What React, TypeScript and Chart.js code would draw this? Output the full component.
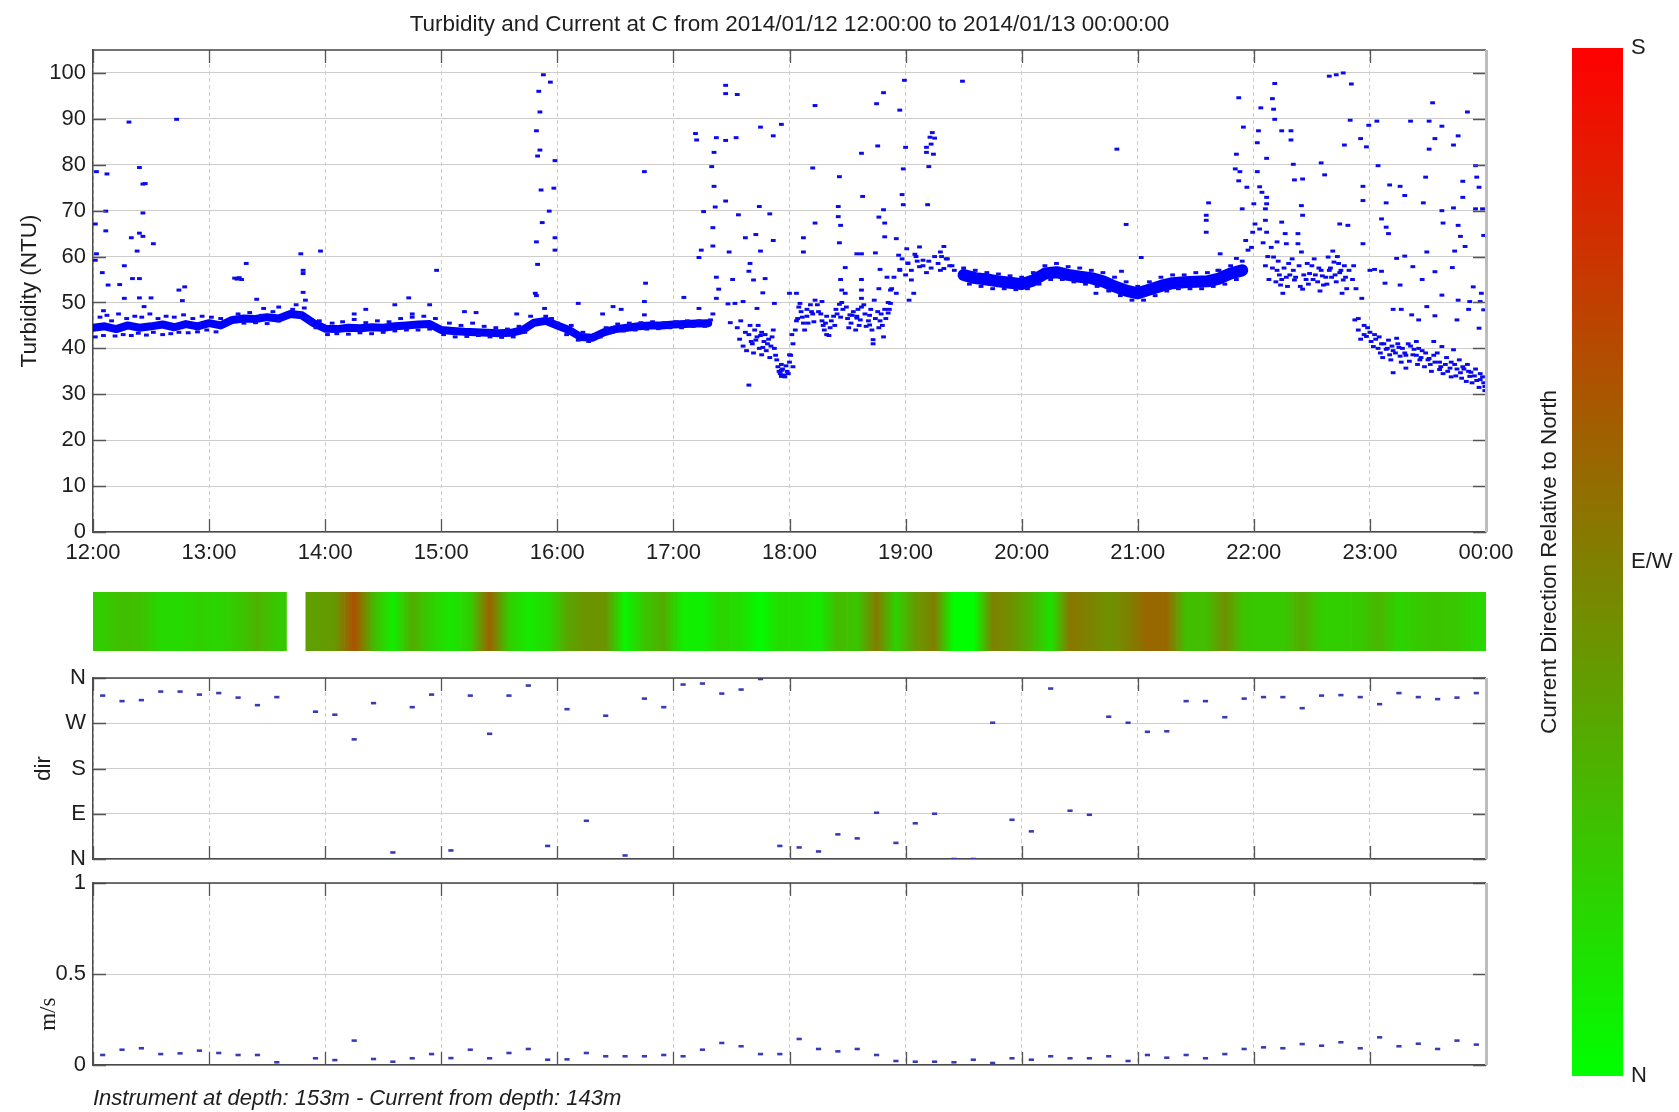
import React, { useEffect, useRef } from "react";
import { Chart, registerables } from "chart.js";
Chart.register(...registerables);

const FONT = "'Liberation Sans', Arial, Helvetica, sans-serif";
const TXT = "#1e1e1e";
const GRID = "#cdcdcd";
const AXIS = "#4a4a4a";

const chartTitle = "Turbidity and Current at C from 2014/01/12 12:00:00 to 2014/01/13 00:00:00";
const footerText = "Instrument at depth: 153m - Current from depth: 143m";

const hourTicks = [0, 1, 2, 3, 4, 5, 6, 7, 8, 9, 10, 11, 12];
const hourLabels = ["12:00", "13:00", "14:00", "15:00", "16:00", "17:00", "18:00", "19:00", "20:00", "21:00", "22:00", "23:00", "00:00"];
const turbTicks = [0, 10, 20, 30, 40, 50, 60, 70, 80, 90, 100];
const dirTicks = [0, 90, 180, 270, 360];
const dirTickLabels = ["N", "E", "S", "W", "N"];
const speedTicks = [0, 0.5, 1];
const speedTickLabels = ["0", "0.5", "1"];
const colorbarTicks = [0, 90, 180];
const colorbarLabels = ["N", "E/W", "S"];

// current observations, minutes after 12:00
const obsMinutes = [5, 15, 25, 35, 45, 55, 65, 75, 85, 95, 115, 125, 135, 145, 155, 165, 175, 185, 195, 205, 215, 225, 235, 245, 255, 265, 275, 285, 295, 305, 315, 325, 335, 345, 355, 365, 375, 385, 395, 405, 415, 425, 435, 445, 455, 465, 475, 485, 495, 505, 515, 525, 535, 545, 555, 565, 575, 585, 595, 605, 615, 625, 635, 645, 655, 665, 675, 685, 695, 705, 715];
const dirDegrees = [325, 314, 316, 333, 333, 327, 330, 321, 306, 322, 293, 287, 238, 310, 13, 302, 327, 17, 325, 249, 325, 345, 26, 298, 76, 285, 7, 319, 302, 347, 349, 329, 337, 358, 26, 23, 15, 49, 41, 92, 32, 71, 90, 0, 0, 271, 78, 55, 339, 96, 88, 283, 271, 253, 254, 314, 314, 282, 319, 322, 322, 300, 325, 326, 322, 308, 330, 322, 318, 321, 330];
const speedMs = [0.055, 0.084, 0.092, 0.06, 0.064, 0.079, 0.066, 0.055, 0.055, 0.015, 0.037, 0.027, 0.134, 0.033, 0.018, 0.037, 0.06, 0.038, 0.084, 0.037, 0.066, 0.088, 0.029, 0.031, 0.066, 0.048, 0.048, 0.048, 0.055, 0.048, 0.084, 0.121, 0.103, 0.06, 0.06, 0.143, 0.088, 0.075, 0.088, 0.055, 0.022, 0.018, 0.018, 0.015, 0.029, 0.011, 0.037, 0.029, 0.048, 0.037, 0.037, 0.048, 0.022, 0.055, 0.04, 0.055, 0.037, 0.06, 0.088, 0.097, 0.092, 0.115, 0.106, 0.125, 0.092, 0.152, 0.103, 0.117, 0.088, 0.134, 0.112];

// dense turbidity baseline (hours after 12:00, NTU)
const bandTimesA = [0, 0.1, 0.2, 0.3, 0.4, 0.5, 0.6, 0.7, 0.8, 0.9, 1.0, 1.1, 1.2, 1.3, 1.4, 1.5, 1.6, 1.7, 1.8, 1.9, 2.0, 2.1, 2.2, 2.3, 2.4, 2.5, 2.6, 2.7, 2.8, 2.9, 3.0, 3.1, 3.2, 3.3, 3.4, 3.5, 3.6, 3.7, 3.8, 3.9, 4.0, 4.1, 4.2, 4.3, 4.4, 4.5, 4.6, 4.7, 4.8, 4.9, 5.0, 5.1, 5.2, 5.3];
const bandValuesA = [44.5, 44.8, 44.2, 45, 44.5, 44.8, 45.2, 44.6, 45.3, 44.8, 45.5, 45, 46.2, 46.5, 46.4, 46.8, 46.5, 47.5, 47.2, 45.5, 44.3, 44.2, 44.5, 44.4, 44.6, 44.5, 44.8, 45, 45.2, 45.3, 44, 43.8, 43.6, 43.5, 43.4, 43.3, 43.4, 44, 45.6, 46, 45, 44, 42.5, 42.3, 43.5, 44.2, 44.5, 44.8, 45, 45, 45.2, 45.3, 45.4, 45.5];
const bandTimesB = [7.5, 7.6, 7.7, 7.8, 7.9, 8.0, 8.1, 8.2, 8.3, 8.4, 8.5, 8.6, 8.7, 8.8, 8.9, 9.0, 9.1, 9.2, 9.3, 9.4, 9.5, 9.6, 9.7, 9.8, 9.9];
const bandValuesB = [56, 55.3, 55, 54.6, 54.3, 54, 54.8, 56.3, 56.6, 56, 55.6, 55.3, 54.6, 53.5, 52.6, 52, 52.8, 53.6, 54.2, 54.4, 54.5, 54.6, 55.2, 56.3, 57];

const turbEarly = [
  [0.31, 89.3], [0.72, 89.9], [0.03, 78.5], [0.12, 78], [0.40, 79.4], [0.43, 75.8], [0.45, 75.9], [0.11, 69.9], [0.43, 69.5], [0.02, 67.1], [0.11, 65.6], [0.33, 64.1], [0.40, 65.1], [0.43, 64.4], [0.52, 62.8], [0.03, 60.6], [0.02, 59.2], [0.38, 61.2], [0.08, 56.5], [0.27, 58], [0.13, 53.8], [0.23, 53.9], [0.34, 55.2], [0.40, 55.2], [0.74, 52.7], [0.79, 53.4], [0.27, 50.9], [0.40, 51], [0.5, 51], [0.77, 50.4], [0.09, 48.2], [0.44, 49.1],
  [1.32, 58.5], [1.22, 55.3], [1.24, 55.1], [1.26, 55.4], [1.28, 55], [1.41, 50.7], [1.47, 48.7], [1.79, 60.6], [1.96, 61.2], [1.81, 57], [1.81, 56.3], [1.81, 52.2], [1.83, 50.5], [2.96, 57], [2.72, 51],
  [0.02, 42.5], [0.06, 46.8], [0.09, 42.8], [0.12, 47.2], [0.16, 46], [0.19, 42.7], [0.22, 47.5], [0.26, 43], [0.29, 46.5], [0.33, 42.8], [0.36, 47], [0.39, 43.3], [0.42, 46.8], [0.46, 42.9], [0.49, 47.5], [0.52, 43.5], [0.56, 46.5], [0.6, 43], [0.63, 47], [0.67, 43.2], [0.7, 46.8], [0.74, 43.5], [0.78, 47.3], [0.82, 43.4], [0.86, 46.5], [0.9, 43.6], [0.94, 47], [0.98, 44], [1.02, 46.8], [1.06, 43.6], [1.1, 46.5],
  [1.25, 47.5], [1.3, 45.5], [1.35, 47.8], [1.4, 45.6], [1.45, 47.2], [1.5, 45.4], [1.55, 48], [1.6, 46], [1.72, 48.5], [1.75, 49.5], [1.78, 47.5], [1.82, 48.8], [1.85, 46.5], [1.88, 45.5], [1.92, 44.5], [1.95, 46],
  [2.02, 43], [2.06, 45.5], [2.1, 43.2], [2.15, 45.8], [2.2, 43.1], [2.25, 46.3], [2.3, 43.4], [2.35, 45.6], [2.4, 43.2], [2.45, 46], [2.5, 43.5], [2.55, 45.8], [2.6, 43.8], [2.65, 46.5], [2.7, 44], [2.75, 46.8], [2.8, 44], [2.85, 47], [2.9, 44.2], [2.95, 46.5],
  [3.02, 43], [3.07, 45.5], [3.12, 42.5], [3.17, 45], [3.22, 42.6], [3.27, 45.5], [3.32, 42.8], [3.37, 44.8], [3.42, 42.5], [3.47, 44.5], [3.52, 42.4], [3.57, 44.2], [3.62, 42.5], [3.67, 44.8], [3.72, 43.5], [3.77, 47], [3.8, 45.5],
  [3.9, 47], [3.95, 46.5], [4.0, 45.5], [4.03, 44.8], [4.08, 43], [4.12, 45], [4.18, 41.8], [4.22, 43.5], [4.27, 41.5], [4.32, 43], [4.37, 42.5], [4.42, 44.5], [4.47, 43.5], [4.52, 45.3], [4.57, 43.8], [4.62, 45.5], [4.67, 44], [4.72, 45.6], [4.77, 44.2], [4.82, 45.8], [4.87, 44.3], [4.92, 45.6], [4.97, 44.5], [5.02, 45.8], [5.07, 44.5], [5.12, 46], [5.17, 44.8], [5.22, 46], [5.27, 44.8], [5.32, 46.2],
  [3.88, 99.6], [3.94, 98], [3.84, 96], [3.85, 91.5], [3.82, 87.4], [3.85, 83.2], [3.83, 81.9], [3.98, 80.9], [3.86, 74.5], [3.97, 74.9], [3.93, 69.9], [3.87, 67.4], [3.82, 63.2], [3.98, 64.1], [3.98, 61.4], [3.83, 58.3], [3.81, 52], [3.82, 51.5], [3.89, 48.7],
  [4.75, 78.5], [4.76, 54.2], [4.18, 49.8], [4.48, 49.1], [4.39, 47.5], [4.75, 50.2], [4.75, 47.3], [5.09, 51.1], [3.65, 47.5], [3.2, 48], [2.6, 49.5], [2.25, 47.5], [1.6, 49], [2.35, 48.5], [2.9, 49.5], [3.3, 47.8], [2.75, 47.5], [4.55, 48.5],
];

const turbMid = [
  [5.19, 86.8], [5.20, 85.4], [5.37, 85.9], [5.45, 85.3], [5.54, 85.9], [5.75, 88.2], [5.86, 86.3], [5.93, 88.8], [5.45, 97.3], [5.45, 95.5], [5.55, 95.3], [5.35, 82.7], [5.33, 79.6], [5.35, 75.3], [5.26, 69.8], [5.36, 70.8], [5.45, 72.1], [5.56, 69.1], [5.74, 70.9], [5.83, 69.3], [5.34, 66.3], [5.34, 62.3], [5.24, 61.4], [5.22, 59.8], [5.48, 61], [5.62, 64.1], [5.71, 64.8], [5.86, 63.5], [5.75, 61.2], [5.66, 58.5], [5.65, 56.8], [5.69, 54.9], [5.79, 55.2], [5.37, 55.5], [5.51, 55], [5.39, 52.9], [5.77, 52.1], [5.37, 50.9], [5.22, 48.7], [5.34, 47.5], [5.47, 49.7], [5.53, 49.8], [5.6, 50.2], [5.72, 48.7], [5.87, 49.8], [6.0, 52], [5.49, 45.6], [5.76, 38.6], [6.0, 38.6], [5.65, 32], [5.93, 35.2], [5.93, 33.9],
  [5.65, 43], [5.68, 41], [5.7, 44], [5.72, 42.5], [5.74, 40], [5.76, 43.5], [5.78, 41.5], [5.8, 39.5], [5.82, 42], [5.84, 40.5], [5.86, 44], [5.88, 38.5], [5.9, 36], [5.92, 34.5], [5.94, 35.5], [5.96, 33.8], [5.98, 35], [6.0, 37],
  [5.55, 44.5], [5.57, 42], [5.58, 46], [5.6, 40.5], [5.62, 43.5], [5.63, 39.5], [5.66, 45], [5.67, 41.5], [5.69, 39], [5.71, 41.8], [5.73, 45], [5.75, 42.8], [5.77, 40.2], [5.79, 43], [5.81, 41], [5.83, 38], [5.85, 42.5], [5.87, 40], [5.89, 37.5], [5.91, 35], [5.93, 36.5], [5.95, 34.2], [5.97, 36.2], [5.99, 34.5], [6.01, 38.5], [6.02, 43],
  [6.03, 41], [6.05, 44], [6.07, 46.5], [6.1, 48], [6.12, 45.5], [6.15, 47], [6.18, 49.5], [6.2, 47.5], [6.22, 50.5], [6.25, 48], [6.28, 46], [6.3, 44], [6.32, 43], [6.35, 44.5], [6.38, 47], [6.4, 48.5], [6.45, 50], [6.48, 52],
  [6.06, 46], [6.08, 49], [6.11, 46.8], [6.13, 44], [6.16, 45.5], [6.19, 48], [6.21, 45.8], [6.24, 49.5], [6.27, 47.5], [6.29, 45], [6.31, 45.5], [6.34, 42.8], [6.36, 46], [6.39, 45], [6.41, 47.5], [6.44, 46.8], [6.46, 48.5], [6.49, 49], [6.51, 44.5], [6.54, 47.2], [6.57, 44], [6.59, 48.5], [6.61, 46.2], [6.64, 49.5], [6.66, 44.8], [6.69, 47.2], [6.71, 44], [6.74, 46.5], [6.77, 44.5], [6.79, 47.5], [6.81, 42.5], [6.83, 46.5], [6.86, 48.5],
  [6.5, 46.5], [6.53, 45.5], [6.55, 48], [6.58, 47], [6.6, 45], [6.62, 49], [6.65, 47.5], [6.68, 46], [6.7, 48.5], [6.73, 50.5], [6.76, 48], [6.78, 46], [6.8, 45], [6.82, 48.5], [6.85, 50],
  [6.88, 53], [6.9, 55.5], [6.92, 52], [6.95, 57], [6.97, 59.5], [7.0, 56], [7.02, 58.5], [7.05, 57], [7.08, 60.5], [7.1, 59], [7.15, 58], [7.18, 56.5], [7.2, 59], [7.22, 57.5], [7.25, 60], [7.28, 58.5], [7.3, 57], [7.35, 59.5], [7.38, 58], [7.42, 57], [7.36, 59.5], [7.4, 58], [7.3, 61],
  [6.22, 92.9], [6.75, 93.3], [6.81, 95.7], [6.95, 91.9], [6.99, 98.4], [7.49, 98.2], [7.23, 87], [7.25, 85.8], [7.18, 83.8], [7.18, 82.7], [7.24, 82.3], [7.2, 79.6], [7.22, 84.5], [7.21, 86], [6.76, 84.1], [6.62, 82.5], [7.0, 83.8], [6.2, 79.3], [6.43, 77.4], [6.98, 79.1], [6.63, 73.1], [6.97, 73.5], [6.98, 71.3], [7.19, 71.3], [6.42, 70.9], [6.42, 68.7], [6.44, 66.8], [6.22, 67.3], [6.81, 70.2], [6.77, 68.6], [6.82, 67.3], [6.12, 64.1], [6.43, 63], [6.12, 61], [6.82, 64.3], [6.92, 63.9], [6.58, 60.6], [6.62, 60.6], [6.74, 60.8], [6.94, 60.3], [7.01, 61.7], [7.12, 62.1], [7.33, 62.2], [6.48, 57.6], [6.44, 55], [6.45, 52.7], [6.62, 55], [6.62, 52.7], [6.62, 50.9], [6.78, 57.2], [6.84, 55.5], [6.77, 53], [6.87, 52.7], [6.95, 57.2], [7.02, 58.6], [7.09, 60], [7.12, 57.8], [7.05, 54.9], [7.03, 50.5], [7.07, 52], [7.15, 59.2], [7.31, 60], [7.33, 57.4], [6.87, 49.8], [6.85, 47.7], [6.72, 41.9], [6.72, 41], [6.06, 52], [6.09, 49.8], [6.15, 48.5], [6.28, 50.2], [6.32, 47], [6.43, 49.6], [6.52, 47.3], [6.58, 46.6], [6.69, 45.1], [6.03, 36],
];

const turbLate = [
  [8.9, 67], [8.82, 83.4], [9.03, 59.8], [8.86, 56.8], [8.64, 52],
  [7.5, 57.5], [7.55, 54], [7.6, 57], [7.65, 53.5], [7.7, 56.5], [7.75, 53], [7.8, 56.2], [7.85, 53], [7.9, 55.8], [7.95, 52.8], [8.0, 55.5], [8.05, 53], [8.1, 56.5], [8.15, 54], [8.2, 58], [8.25, 55], [8.3, 58.5], [8.35, 55], [8.4, 57.8], [8.45, 54.5], [8.5, 57.5], [8.55, 54], [8.6, 57], [8.65, 53.5], [8.7, 56.5], [8.75, 52.5], [8.8, 55.5], [8.85, 51.5], [8.9, 54.5], [8.95, 50.5], [9.0, 53.5], [9.05, 50.5], [9.1, 54.5], [9.15, 51.5], [9.2, 55.5], [9.25, 52.5], [9.3, 56], [9.35, 53], [9.4, 56], [9.45, 53], [9.5, 56.5], [9.55, 53], [9.6, 56.5], [9.65, 53.5], [9.7, 57], [9.75, 54], [9.8, 58], [9.85, 55], [9.9, 59],
  [9.59, 69], [9.59, 67.9], [9.61, 71.7], [9.59, 65.3], [9.71, 60.6], [9.69, 57], [9.85, 59.6], [9.85, 82.3], [9.87, 94.6], [9.91, 88.2], [10.04, 87.4], [10.06, 92.4], [10.16, 94.4], [10.18, 97.7], [10.17, 92.1], [10.18, 89.9], [10.24, 87.4], [10.32, 87.4], [10.32, 85.4], [10.03, 84.8], [10.11, 81.4], [9.84, 79.1], [9.88, 78.5], [9.87, 76.5], [9.94, 75.1], [10.03, 78.5], [10.05, 75.2], [10.07, 74], [10.11, 72.9], [10.11, 71.5], [10.1, 70.4], [10.0, 71.5], [9.9, 70.4], [10.01, 67.1], [9.99, 65.3], [9.93, 63.5], [9.95, 61.4], [10.1, 67.9], [10.11, 65.3], [10.2, 63.2], [10.24, 67.5], [10.27, 65], [10.28, 62.8], [10.41, 71.1], [10.42, 69], [10.35, 76.7], [10.34, 80.1], [10.42, 76.9], [10.58, 80.4], [10.61, 77.8],
  [10.17, 59.9], [10.2, 57], [10.23, 53.8], [10.25, 52], [10.34, 57], [10.35, 54.9], [10.42, 52.9], [10.48, 56.3], [10.53, 56], [10.6, 53.8], [10.64, 59.9], [10.68, 61.2], [10.73, 58.5], [10.74, 67.1], [10.81, 66.8], [10.77, 54.9], [10.8, 53], [10.76, 52], [10.38, 65], [10.38, 62.8], [10.41, 61],
  [10.45, 55], [10.5, 58], [10.55, 54.5], [10.58, 57], [10.62, 55.5], [10.66, 57.5], [10.7, 56], [10.72, 60], [10.75, 57], [10.28, 55.5], [10.3, 58.5], [10.22, 56], [10.15, 62], [10.12, 60], [10.08, 63], [10.05, 66], [9.98, 62],
  [10.1, 58], [10.13, 55], [10.16, 57.5], [10.19, 54.5], [10.21, 59], [10.24, 55], [10.26, 57.5], [10.29, 53.5], [10.31, 56], [10.33, 59.5], [10.36, 55.5], [10.39, 58], [10.4, 53.5], [10.43, 56], [10.46, 58.5], [10.47, 54], [10.51, 55], [10.52, 59.5], [10.56, 57.5], [10.57, 52.5], [10.59, 55.8], [10.63, 54], [10.65, 57], [10.67, 55.5], [10.69, 58.8], [10.71, 54.5], [10.74, 56.5], [10.78, 58], [10.79, 55.5], [10.82, 57], [10.85, 55], [10.86, 58], [10.88, 53],
  [10.77, 100], [10.71, 99.6], [10.65, 99.3], [10.84, 97.6], [10.83, 89.7], [10.99, 88.6], [11.06, 89.5], [11.35, 89.5], [11.51, 89.5], [11.62, 88.4], [11.54, 93.5], [11.84, 91.5], [10.92, 85.7], [10.97, 83.9], [10.78, 84.3], [11.56, 85.7], [11.72, 84.3], [11.76, 86.3], [11.51, 83.4], [11.07, 79.8], [10.94, 75.3], [11.17, 75.6], [11.26, 75.3], [11.3, 73.3], [11.48, 77.3], [11.14, 71.7], [10.94, 72.2], [11.46, 71.7], [11.62, 70], [11.72, 70.6], [11.8, 72.9], [11.8, 76.4], [11.91, 79.8], [11.92, 77.3], [11.94, 75.1], [11.91, 70.4], [11.97, 70.4], [11.14, 66.4], [11.16, 65], [11.1, 68.2], [10.94, 62.8], [11.63, 67.3], [11.76, 66.8], [11.78, 64.4], [11.73, 61.2], [11.82, 62.2], [11.49, 61], [11.98, 64.6], [11.23, 59.6], [11.3, 60.1], [11.37, 57.8], [11.45, 55], [11.56, 56.7], [11.71, 57.6], [11.04, 57.2], [11.1, 56.8], [11.13, 54.2], [11.26, 53.8], [11.0, 57], [10.93, 50.9], [11.2, 48.5], [11.27, 48.5], [11.36, 47.3], [11.42, 46.2], [11.49, 49.1], [11.56, 47.1], [11.62, 51.6], [11.76, 50.5], [11.86, 50.2], [11.95, 50.2], [11.96, 52], [11.89, 53.4], [11.85, 48.5], [11.94, 44.4], [11.98, 48.4], [11.75, 46.2],
  [10.87, 46.2], [10.9, 44], [10.97, 42.6], [11.03, 40.4], [11.09, 39], [11.17, 38.6], [11.26, 38.3], [11.37, 38.6], [11.43, 37.5], [11.52, 36.5], [11.6, 35.4], [11.69, 35.7], [11.78, 34.7], [11.86, 33.9], [11.95, 33.2], [11.99, 31.7], [11.2, 34.7], [11.31, 35.7], [11.72, 39.7], [11.62, 40.4], [11.55, 41.5], [11.23, 42.2], [11.4, 41.5],
  [10.95, 45], [11.0, 43.5], [11.05, 42], [11.1, 41], [11.15, 40], [11.2, 39.5], [11.25, 40.2], [11.3, 39], [11.35, 40.5], [11.4, 38.5], [11.45, 39.5], [11.5, 37.5], [11.55, 38.5], [11.6, 37], [11.65, 36.5], [11.7, 37], [11.75, 35.5], [11.8, 36], [11.85, 35], [11.9, 34], [11.95, 34.5], [11.98, 32.5],
  [10.9, 46.5], [10.92, 42], [10.95, 43], [10.98, 44.5], [11.01, 41.5], [11.04, 43], [11.07, 40], [11.08, 42.5], [11.11, 38], [11.12, 41], [11.14, 39.8], [11.16, 41.8], [11.18, 37.5], [11.19, 40.5], [11.22, 39], [11.24, 41], [11.27, 37], [11.28, 40], [11.31, 38.5], [11.33, 41], [11.34, 37.2], [11.38, 39.8], [11.41, 36.5], [11.42, 40], [11.44, 38], [11.47, 36], [11.48, 39], [11.51, 37.8], [11.53, 35], [11.56, 37], [11.58, 39], [11.61, 36], [11.63, 34.5], [11.66, 38], [11.67, 35], [11.7, 33.8], [11.73, 36.5], [11.74, 34], [11.77, 37.5], [11.79, 33.5], [11.81, 35.5], [11.83, 32.8], [11.84, 36.5], [11.87, 34.8], [11.88, 32.5], [11.91, 35.5], [11.92, 33], [11.94, 31.5], [11.97, 33.8], [11.99, 30.8],
];

// ---------- helpers ----------
const devColor = (deg: number) => {
  const d = Math.min(deg, 360 - deg) / 180;
  return [Math.round(255 * d), Math.round(255 * (1 - d)), 0];
};
const rgb = (c: number[]) => `rgb(${c[0]},${c[1]},${c[2]})`;
const mix = (a: number[], b: number[]) => [(a[0] + b[0]) / 2, (a[1] + b[1]) / 2, (a[2] + b[2]) / 2].map(Math.round);

const framePlugin = {
  id: "matlabFrame",
  afterDatasetsDraw(chart: any, _args: any, opts: any) {
    if (!opts || !opts.show) return;
    const { ctx, chartArea: a } = chart;
    const xs = chart.scales.x;
    const ys = chart.scales.y;
    const len = 13;
    ctx.save();
    ctx.strokeStyle = "#555";
    ctx.lineWidth = 1.3;
    ctx.beginPath();
    for (const t of xs.ticks) {
      const px = Math.round(xs.getPixelForValue(t.value)) + 0.5;
      ctx.moveTo(px, a.bottom);
      ctx.lineTo(px, a.bottom - len);
      ctx.moveTo(px, a.top);
      ctx.lineTo(px, a.top + len);
    }
    for (const t of ys.ticks) {
      const py = Math.round(ys.getPixelForValue(t.value)) + 0.5;
      ctx.moveTo(a.left, py);
      ctx.lineTo(a.left + len, py);
      ctx.moveTo(a.right, py);
      ctx.lineTo(a.right - len, py);
    }
    ctx.stroke();
    ctx.strokeStyle = "#444";
    ctx.lineWidth = 1.5;
    ctx.beginPath();
    ctx.moveTo(a.left, a.top);
    ctx.lineTo(a.right, a.top);
    ctx.stroke();
    ctx.strokeStyle = "#bdbdbd";
    ctx.lineWidth = 3;
    ctx.beginPath();
    ctx.moveTo(a.right + 0.5, a.top);
    ctx.lineTo(a.right + 0.5, a.bottom);
    ctx.stroke();
    ctx.restore();
  },
};

const tickFont = { family: FONT, size: 22 };
const titleFont = { family: FONT, size: 22.5 };

const timeAxis = (height: number, showLabels: boolean, title?: any) => ({
  type: "linear",
  min: 0,
  max: 12,
  offset: false,
  afterBuildTicks: (s: any) => {
    s.ticks = hourTicks.map((v) => ({ value: v }));
  },
  afterFit: (s: any) => {
    s.height = height;
  },
  ticks: {
    display: showLabels,
    autoSkip: false,
    maxRotation: 0,
    padding: 8,
    font: tickFont,
    color: TXT,
    callback: (_v: any, i: number) => hourLabels[i],
  },
  grid: { color: GRID, lineWidth: 1, drawTicks: false },
  border: { display: true, color: AXIS, width: 1.5, dash: [4, 3] },
  title: title || { display: false },
});

const valueAxis = (min: number, max: number, ticks: number[], labels: string[], title: any) => ({
  type: "linear",
  position: "left",
  min,
  max,
  afterBuildTicks: (s: any) => {
    s.ticks = ticks.map((v) => ({ value: v }));
  },
  afterFit: (s: any) => {
    s.width = 93;
  },
  ticks: {
    padding: 7,
    font: tickFont,
    color: TXT,
    callback: (_v: any, i: number) => labels[i],
  },
  grid: { color: GRID, lineWidth: 1, drawTicks: false },
  border: { display: true, color: AXIS, width: 1.5 },
  title,
});

const pts = (list: number[][]) => list.map((p) => ({ x: p[0], y: p[1] }));

export default function App() {
  const turbRef = useRef<HTMLCanvasElement>(null);
  const stripRef = useRef<HTMLCanvasElement>(null);
  const dirRef = useRef<HTMLCanvasElement>(null);
  const speedRef = useRef<HTMLCanvasElement>(null);
  const barRef = useRef<HTMLCanvasElement>(null);

  useEffect(() => {
    const charts: Chart[] = [];

    const bandStyle = {
      showLine: true,
      borderColor: "#0000ff",
      pointRadius: 0,
      tension: 0,
      borderJoinStyle: "round",
      borderCapStyle: "round",
    };

    // ---- turbidity ----
    charts.push(
      new Chart(turbRef.current as HTMLCanvasElement, {
        type: "scatter",
        data: {
          datasets: [
            {
              data: pts([...turbEarly, ...turbMid, ...turbLate]),
              showLine: false,
              pointStyle: "line",
              pointRadius: 2.4,
              pointBorderWidth: 3,
              pointBorderColor: "#0a0af0",
              pointBackgroundColor: "#0a0af0",
            },
            {
              data: bandTimesA.map((t, i) => ({ x: t, y: bandValuesA[i] })),
              borderWidth: 8,
              ...bandStyle,
            } as any,
            {
              data: bandTimesB.map((t, i) => ({ x: t, y: bandValuesB[i] })),
              borderWidth: 12,
              ...bandStyle,
            } as any,
          ],
        },
        options: {
          animation: false,
          responsive: false,
          events: [],
          layout: { padding: { top: 0, left: 0, right: 54, bottom: 0 } },
          plugins: {
            legend: { display: false },
            tooltip: { enabled: false },
            title: {
              display: true,
              text: chartTitle,
              fullSize: false,
              color: TXT,
              font: { ...titleFont, weight: "normal" },
              padding: { top: 11, bottom: 12 },
            },
            matlabFrame: { show: true },
          } as any,
          scales: {
            x: timeAxis(48, true) as any,
            y: valueAxis(0, 105, turbTicks, turbTicks.map(String), {
              display: true,
              text: "Turbidity (NTU)",
              color: TXT,
              font: titleFont,
              padding: { top: 16, bottom: 0 },
            }) as any,
          },
        },
        plugins: [framePlugin],
      })
    );

    // ---- direction colour strip ----
    const n = obsMinutes.length;
    charts.push(
      new Chart(stripRef.current as HTMLCanvasElement, {
        type: "bar",
        data: {
          datasets: [
            {
              data: obsMinutes.map((m) => ({ x: m / 60, y: 1 })),
              barPercentage: 1,
              categoryPercentage: 1,
              borderWidth: 0,
              backgroundColor: (c: any) => {
                const i = c.dataIndex;
                const chart = c.chart;
                const cur = devColor(dirDegrees[i]);
                if (!chart.chartArea || i === undefined) return rgb(cur);
                const prevOk = i > 0 && obsMinutes[i] - obsMinutes[i - 1] === 10;
                const nextOk = i < n - 1 && obsMinutes[i + 1] - obsMinutes[i] === 10;
                const left = prevOk ? mix(devColor(dirDegrees[i - 1]), cur) : cur;
                const right = nextOk ? mix(cur, devColor(dirDegrees[i + 1])) : cur;
                const xs = chart.scales.x;
                const x0 = xs.getPixelForValue((obsMinutes[i] - 5) / 60);
                const x1 = xs.getPixelForValue((obsMinutes[i] + 5) / 60);
                const g = chart.ctx.createLinearGradient(x0, 0, x1, 0);
                g.addColorStop(0, rgb(left));
                g.addColorStop(0.5, rgb(cur));
                g.addColorStop(1, rgb(right));
                return g;
              },
            } as any,
          ],
        },
        options: {
          animation: false,
          responsive: false,
          events: [],
          layout: { padding: { top: 7, left: 93, right: 54, bottom: 9 } },
          plugins: { legend: { display: false }, tooltip: { enabled: false } },
          scales: {
            x: { type: "linear", min: 0, max: 12, offset: false, display: false },
            y: { min: 0, max: 1, display: false },
          },
        },
      })
    );

    const currentPoint = {
      showLine: false,
      pointStyle: "line",
      pointRadius: 2.6,
      pointBorderWidth: 2.6,
      pointBorderColor: "#3a3ab8",
      pointBackgroundColor: "#3a3ab8",
    };

    // ---- direction ----
    charts.push(
      new Chart(dirRef.current as HTMLCanvasElement, {
        type: "scatter",
        data: {
          datasets: [{ data: obsMinutes.map((m, i) => ({ x: m / 60, y: dirDegrees[i] })), ...currentPoint } as any],
        },
        options: {
          animation: false,
          responsive: false,
          events: [],
          layout: { padding: { top: 23, left: 0, right: 54, bottom: 0 } },
          plugins: { legend: { display: false }, tooltip: { enabled: false }, matlabFrame: { show: true } } as any,
          scales: {
            x: timeAxis(21, false) as any,
            y: valueAxis(0, 360, dirTicks, dirTickLabels, {
              display: true,
              text: "dir",
              color: TXT,
              font: titleFont,
              padding: { top: 30, bottom: 0 },
            }) as any,
          },
        },
        plugins: [framePlugin],
      })
    );

    // ---- speed ----
    charts.push(
      new Chart(speedRef.current as HTMLCanvasElement, {
        type: "scatter",
        data: {
          datasets: [{ data: obsMinutes.map((m, i) => ({ x: m / 60, y: speedMs[i] })), ...currentPoint } as any],
        },
        options: {
          animation: false,
          responsive: false,
          events: [],
          layout: { padding: { top: 21, left: 0, right: 54, bottom: 0 } },
          plugins: { legend: { display: false }, tooltip: { enabled: false }, matlabFrame: { show: true } } as any,
          scales: {
            x: timeAxis(47, false, {
              display: true,
              text: footerText,
              align: "start",
              color: TXT,
              font: { family: FONT, size: 22, style: "italic" },
              padding: { top: 0, bottom: 0 },
            }) as any,
            y: valueAxis(0, 1, speedTicks, speedTickLabels, {
              display: true,
              text: "m/s" + "              ",
              color: TXT,
              font: { family: "'Liberation Serif', 'DejaVu Serif', serif", size: 23 },
              padding: { top: 35, bottom: 0 },
            }) as any,
          },
        },
        plugins: [framePlugin],
      })
    );

    // ---- colour bar ----
    charts.push(
      new Chart(barRef.current as HTMLCanvasElement, {
        type: "bar",
        data: {
          labels: [""],
          datasets: [
            {
              data: [[0, 180]],
              barPercentage: 1,
              categoryPercentage: 1,
              borderWidth: 0,
              backgroundColor: (c: any) => {
                const chart = c.chart;
                const a = chart.chartArea;
                if (!a) return "#808000";
                const g = chart.ctx.createLinearGradient(0, a.bottom, 0, a.top);
                g.addColorStop(0, rgb(devColor(colorbarTicks[0])));
                g.addColorStop(0.5, rgb(devColor(colorbarTicks[1])));
                g.addColorStop(1, rgb(devColor(colorbarTicks[2])));
                return g;
              },
            } as any,
          ],
        },
        options: {
          animation: false,
          responsive: false,
          events: [],
          layout: { padding: { top: 48, left: 0, right: 0, bottom: 36 } },
          plugins: { legend: { display: false }, tooltip: { enabled: false } },
          scales: {
            x: { display: false },
            y: {
              position: "right",
              min: 0,
              max: 180,
              afterBuildTicks: (s: any) => {
                s.ticks = colorbarTicks.map((v) => ({ value: v }));
              },
              afterFit: (s: any) => {
                s.width = 56;
              },
              ticks: {
                padding: 8,
                font: tickFont,
                color: TXT,
                callback: (_v: any, i: number) => colorbarLabels[i],
              },
              grid: { display: false, drawTicks: false },
              border: { display: false },
            } as any,
            yTitle: {
              position: "left",
              min: 0,
              max: 180,
              afterFit: (s: any) => {
                s.width = 72;
              },
              ticks: { display: false },
              grid: { display: false, drawTicks: false },
              border: { display: false },
              title: {
                display: true,
                text: "Current Direction Relative to North",
                color: TXT,
                font: titleFont,
                padding: { top: 36, bottom: 0 },
              },
            } as any,
          },
        },
      })
    );

    return () => charts.forEach((c) => c.destroy());
  }, []);

  const abs = (left: number, top: number, w: number, h: number): React.CSSProperties => ({
    position: "absolute",
    left,
    top,
    width: w,
    height: h,
  });

  return (
    <div style={{ position: "absolute", left: 0, top: 0, width: 1679, height: 1112, background: "#fff", overflow: "hidden" }}>
      <canvas ref={turbRef} width={1540} height={580} style={abs(0, 0, 1540, 580)} />
      <canvas ref={stripRef} width={1540} height={75} style={abs(0, 585, 1540, 75)} />
      <canvas ref={dirRef} width={1540} height={225} style={abs(0, 655, 1540, 225)} />
      <canvas ref={speedRef} width={1540} height={250} style={abs(0, 862, 1540, 250)} />
      <canvas ref={barRef} width={179} height={1112} style={abs(1500, 0, 179, 1112)} />
    </div>
  );
}
